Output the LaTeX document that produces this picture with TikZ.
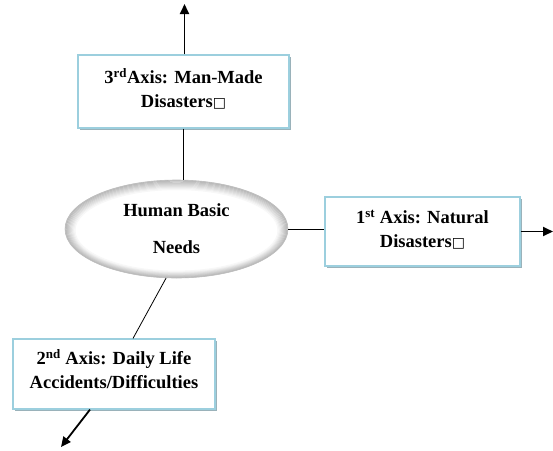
\documentclass[tikz,border=0pt]{standalone}
\usepackage{fontspec}
\setmainfont{Liberation Serif}
\newfontfamily\symfont{DejaVu Sans}
\usetikzlibrary{shapes.geometric,shadows,arrows.meta}
\definecolor{boxborder}{HTML}{9CCFDE}
\definecolor{boxshadow}{HTML}{9AB2BA}
\newcommand{\missingbox}{{\symfont\mdseries\fontsize{14}{14}\selectfont □}}
\begin{document}
\begin{tikzpicture}[x=1pt,y=-1pt,
  axisbox/.style={rectangle, draw=boxborder, line width=1.2pt, fill=white,
    drop shadow={shadow xshift=2pt, shadow yshift=-2pt, fill=boxshadow, opacity=1},
    font=\bfseries\fontsize{18.5}{24}\selectfont, align=center, inner sep=0pt},
  hub/.style={ellipse, draw=black!25, line width=0.6pt, fill=white,
    path picture={
      \foreach \i in {0,...,9}{
        \pgfmathsetmacro{\shadeval}{30-\i*3}
        \draw[black!\shadeval, line width=1.2pt]
          ([yshift=-0.15*\i pt]path picture bounding box.center)
          ellipse ({111.5pt-\i*1.1pt} and {49pt-\i*0.9pt});
      }
    },
    font=\bfseries\fontsize{18.5}{23}\selectfont, align=center, inner sep=0pt,
    minimum width=223pt, minimum height=98pt},
  link/.style={line width=0.8pt, black},
  outarrow/.style={line width=1.8pt, black, -{Triangle[length=10pt,width=9pt]}}
]
\useasboundingbox (0,0) rectangle (553,450);

\node[axisbox, minimum width=211pt, minimum height=73pt] (third) at (183.5,91.5)
  {3\textsuperscript{rd}Axis: Man-Made\\Disasters\missingbox\rule[-7pt]{0pt}{0pt}};
\node[axisbox, minimum width=195pt, minimum height=69pt] (first) at (422.5,231.5)
  {1\textsuperscript{st} Axis: Natural\\Disasters\missingbox\rule[-6pt]{0pt}{0pt}};
\node[axisbox, minimum width=202pt, minimum height=70pt] (second) at (114,374)
  {2\textsuperscript{nd} Axis: Daily Life\\Accidents/Difficulties\rule[-10pt]{0pt}{0pt}};
\node[hub] (needs) at (176.5,229) {Human Basic\\[14pt]Needs};

\coordinate (upend) at (184.5,4);
\coordinate (rightend) at (553,231.5);
\coordinate (downend) at (61,447);

\draw[outarrow] ([xshift=1pt]third.north) -- (upend);
\draw[link] (third.south) -- (third.south |- needs.north);
\draw[link] (needs.east) -- (needs.east -| first.west);
\draw[outarrow] (first.east) -- (rightend);
\draw[link] (needs.258) -- ([xshift=19pt]second.north);
\draw[outarrow] ([xshift=-24pt]second.south) -- (downend);
\end{tikzpicture}
\end{document}
